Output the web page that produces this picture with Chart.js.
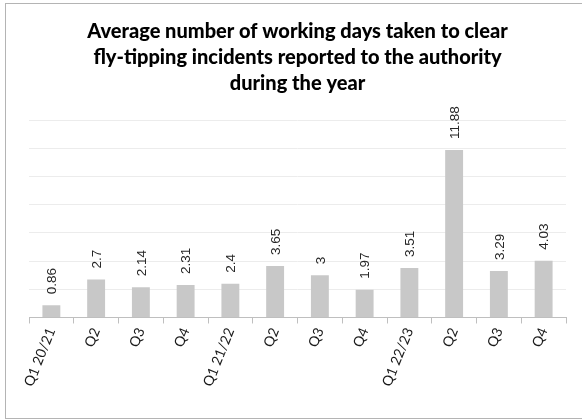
<!DOCTYPE html>
<html>
<head>
<meta charset="utf-8">
<script src="https://cdn.jsdelivr.net/npm/chart.js@4"></script>
<style>
    body { margin: 0; background: #fff; }
    #wrap { width: 582px; height: 420px; }
</style>
</head>
<body>
<div id="wrap"><canvas id="bar-chart" width="582" height="420"></canvas></div>
<script>
// Quarters and average working days to clear incidents
const quarters = ['Q1 20/21', 'Q2', 'Q3', 'Q4', 'Q1 21/22', 'Q2', 'Q3', 'Q4', 'Q1 22/23', 'Q2', 'Q3', 'Q4'];
const avgDays = [0.86, 2.7, 2.14, 2.31, 2.4, 3.65, 3, 1.97, 3.51, 11.88, 3.29, 4.03];
const titleLines = [
    'Average number of working days taken to clear',
    'fly-tipping incidents reported to the authority',
    'during the year'
];

// frame around the chart area (right side runs off the canvas)
const frame = {
    id: 'frame',
    beforeDraw(chart) {
        const c = chart.ctx;
        c.save();
        c.fillStyle = '#fff';
        c.fillRect(0, 0, chart.width, chart.height);
        c.strokeStyle = '#b4b4b4';
        c.lineWidth = 1;
        c.strokeRect(5.5, 3.5, chart.width + 10, chart.height - 5);
        c.restore();
    }
};

// value labels written vertically above each bar
const valueLabels = {
    id: 'valueLabels',
    afterDatasetsDraw(chart) {
        const c = chart.ctx;
        const meta = chart.getDatasetMeta(0);
        c.save();
        c.font = '13.5px "Liberation Sans", Arial, sans-serif';
        c.fillStyle = '#262626';
        c.textAlign = 'left';
        c.textBaseline = 'middle';
        meta.data.forEach((bar, i) => {
            c.save();
            c.translate(bar.x + 1, bar.y - 11);
            c.rotate(-Math.PI / 2);
            c.fillText(String(avgDays[i]), 0, 0);
            c.restore();
        });
        c.restore();
    }
};

const ctx = document.getElementById('bar-chart').getContext('2d');
new Chart(ctx, {
    type: 'bar',
    data: {
        labels: quarters,
        datasets: [{
            data: avgDays,
            backgroundColor: '#c8c8c8',
            borderWidth: 0,
            categoryPercentage: 1,
            barPercentage: 0.4
        }]
    },
    options: {
        responsive: false,
        animation: false,
        layout: { padding: { left: 29, right: 16, top: 0, bottom: 29 } },
        plugins: {
            legend: { display: false },
            tooltip: { enabled: false },
            title: {
                display: true,
                text: titleLines,
                color: '#000',
                font: { family: 'Lato', size: 20, weight: 900, lineHeight: 1.32 },
                padding: { top: 18, bottom: 23 }
            }
        },
        scales: {
            x: {
                grid: {
                    display: true,
                    drawOnChartArea: false,
                    offset: true,
                    tickLength: 6,
                    color: '#bfbfbf'
                },
                border: { color: '#bfbfbf' },
                ticks: {
                    minRotation: 68,
                    maxRotation: 68,
                    color: '#1a1a1a',
                    padding: 2,
                    font: { family: 'Lato', size: 14 }
                }
            },
            y: {
                min: 0,
                max: 14,
                ticks: { display: false, stepSize: 2 },
                grid: { color: '#ececec', drawTicks: false },
                border: { display: false }
            }
        }
    },
    plugins: [frame, valueLabels]
});
</script>
</body>
</html>
